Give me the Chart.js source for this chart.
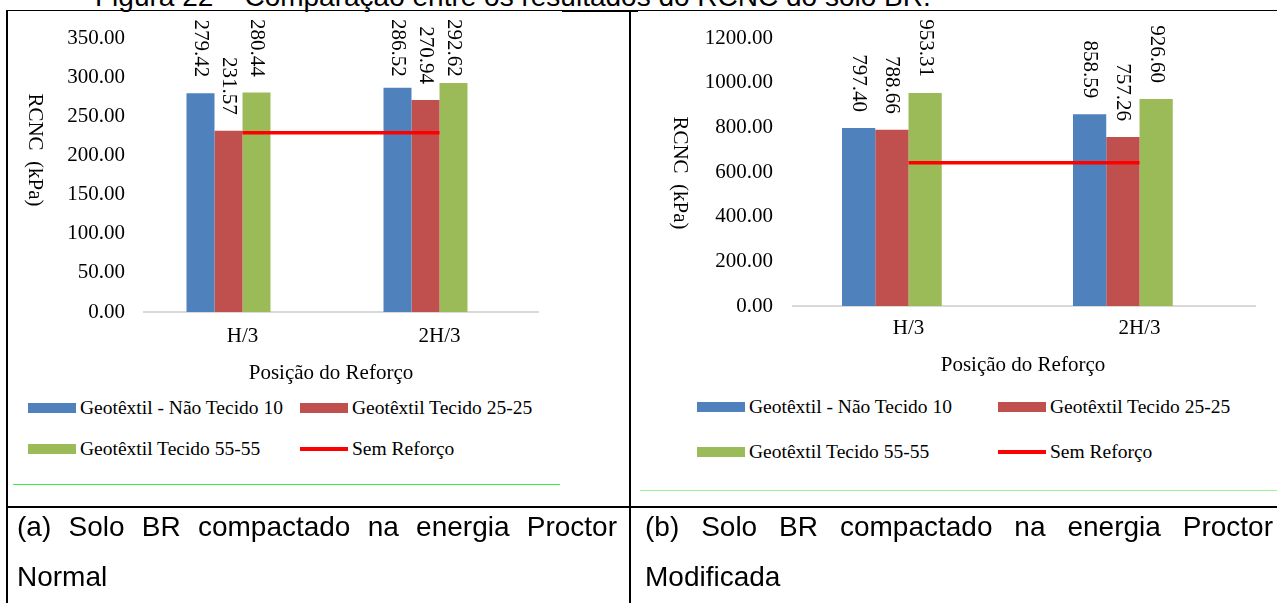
<!DOCTYPE html>
<html lang="pt-BR">
<head>
<meta charset="utf-8">
<title>Figura 22 – RCNC do solo BR</title>
<script src="https://cdn.jsdelivr.net/npm/chart.js@4.4.1/dist/chart.umd.min.js"></script>
<style>
  html, body { margin: 0; padding: 0; background: #fff; }
  body { width: 1277px; height: 603px; position: relative; overflow: hidden; }
  .titulo-fig { position: absolute; left: 95px; top: -17px; font-family: "Liberation Sans", Arial, sans-serif; font-size: 28px; line-height: 28px; white-space: nowrap; }
  .borda { position: absolute; background: #000; }
  .verde { position: absolute; height: 1px; }
  canvas { position: absolute; top: 0; }
  .leg { position: absolute; height: 24px; display: flex; align-items: center; white-space: nowrap;
         font-family: "Liberation Serif", "Times New Roman", serif; font-size: 19.5px; color: #000; }
  .leg i { display: inline-block; width: 48px; margin-right: 4px; }
  .legenda-txt { position: absolute; font-family: "Liberation Sans", Arial, sans-serif; font-size: 28px; line-height: 50px; text-align: justify; }
</style>
</head>
<body>

<div class="titulo-fig">Figura 22 – Comparação entre os resultados do RCNC do solo BR.</div>

<canvas id="grafico-normal" width="622" height="390" style="left:8px"></canvas>
<canvas id="grafico-modificada" width="645" height="390" style="left:632px"></canvas>

<!-- bordas da tabela do documento -->
<div class="borda" style="left:6px;top:10px;width:1271px;height:1px"></div>
<div class="borda" style="left:562px;top:10px;width:76px;height:2px"></div>
<div class="borda" style="left:6px;top:10px;width:2px;height:593px"></div>
<div class="borda" style="left:629px;top:10px;width:2px;height:593px"></div>
<div class="borda" style="left:6px;top:506px;width:1271px;height:2px"></div>
<div class="verde" style="left:13px;top:484px;width:547px;background:#33ee33"></div>
<div class="verde" style="left:640px;top:490px;width:637px;background:#99f599"></div>

<div class="legenda-txt" style="left:17px;top:502px;width:600px">(a) Solo BR compactado na energia Proctor Normal</div>
<div class="legenda-txt" style="left:645px;top:502px;width:628px">(b) Solo BR compactado na energia Proctor Modificada</div>

<script>
// Valores (RCNC em kPa)
const categorias = ['H/3', '2H/3'];
const nomesSeries = ['Geotêxtil - Não Tecido 10', 'Geotêxtil Tecido 25-25', 'Geotêxtil Tecido 55-55'];
const nomeSemReforco = 'Sem Reforço';

const normalNaoTecido10 = [279.42, 286.52];
const normalTecido2525 = [231.57, 270.94];
const normalTecido5555 = [280.44, 292.62];
const normalSemReforco = [229, 229];

const modificadaNaoTecido10 = [797.40, 858.59];
const modificadaTecido2525 = [788.66, 757.26];
const modificadaTecido5555 = [953.31, 926.60];
const modificadaSemReforco = [641, 641];

const ticksNormal = [0, 50, 100, 150, 200, 250, 300, 350];
const ticksModificada = [0, 200, 400, 600, 800, 1000, 1200];

const cores = ['#4F81BD', '#C0504D', '#9BBB59'];
const corSemReforco = '#FF0000';
const fonteSerif = '"Liberation Serif", "Times New Roman", serif';

// Rótulos girados em cima das barras + títulos dos eixos (o Chart.js gira o título do eixo y ao contrário)
const rotulos = {
  id: 'rotulos',
  afterDraw(chart, args, opts) {
    const ctx = chart.ctx;
    ctx.save();
    ctx.font = '21px ' + fonteSerif;
    ctx.fillStyle = '#000';
    ctx.textBaseline = 'middle';
    chart.data.datasets.forEach((ds, i) => {
      if (ds.type !== 'bar' || !ds.label) return;
      chart.getDatasetMeta(i).data.forEach((barra, j) => {
        const v = ds.data[j];
        if (v == null) return;
        const txt = v.toFixed(2);
        const w = ctx.measureText(txt).width;
        const y0 = Math.max(opts.topo, barra.y - opts.folga - w);
        ctx.save();
        ctx.translate(barra.x, y0);
        ctx.rotate(Math.PI / 2);
        ctx.textAlign = 'left';
        ctx.fillText(txt, 0, 0);
        ctx.restore();
      });
    });

    ctx.textAlign = 'center';
    ctx.save();
    ctx.translate(opts.tituloY[0], opts.tituloY[1]);
    ctx.rotate(Math.PI / 2);
    ctx.fillText('RCNC  (kPa)', 0, 0);
    ctx.restore();
    ctx.fillText('Posição do Reforço', opts.tituloX[0], opts.tituloX[1]);
    ctx.restore();
  }
};

function criarGrafico(cfg) {
  const datasets = cfg.barras.map((valores, i) => ({
    type: 'bar',
    label: nomesSeries[i],
    data: valores,
    backgroundColor: cores[i],
    barPercentage: 1,
    categoryPercentage: cfg.catPct,
    order: 1
  }));
  // o Excel reserva o lugar de uma 4ª barra (vazia), por isso o grupo fica deslocado p/ esquerda
  datasets.push({ type: 'bar', label: '', data: categorias.map(() => null),
    barPercentage: 1, categoryPercentage: cfg.catPct, order: 1 });
  datasets.push({
    type: 'line', label: nomeSemReforco, data: cfg.linha,
    borderColor: corSemReforco, backgroundColor: corSemReforco,
    borderWidth: 3.5, pointRadius: 0, fill: false, order: 0
  });

  const ticks = cfg.ticks;
  const chart = new Chart(document.getElementById(cfg.canvas).getContext('2d'), {
    type: 'bar',
    data: { labels: categorias, datasets },
    options: {
      responsive: false,
      animation: false,
      layout: { padding: { top: cfg.topo, right: cfg.direita, left: 0, bottom: 0 } },
      plugins: {
        legend: { display: false },
        tooltip: { enabled: false },
        rotulos: { topo: cfg.topoRotulo, folga: 16, tituloY: cfg.tituloY, tituloX: cfg.tituloX }
      },
      scales: {
        x: {
          grid: { display: false, drawTicks: false },
          border: { color: '#D9D9D9', width: 2 },
          ticks: { color: '#000', font: { family: fonteSerif, size: 21 }, padding: cfg.padX },
          afterFit: s => { s.height = cfg.alturaX; }
        },
        y: {
          min: ticks[0],
          max: ticks[ticks.length - 1],
          grid: { display: false, drawTicks: false },
          border: { display: false },
          ticks: {
            stepSize: ticks[1] - ticks[0],
            color: '#000',
            font: { family: fonteSerif, size: 21 },
            padding: cfg.padY,
            callback: v => Number(v).toFixed(2)
          },
          afterFit: s => { s.width = cfg.larguraY; }
        }
      }
    },
    plugins: [rotulos]
  });

  montarLegenda(chart, cfg.legenda);
  return chart;
}

function montarLegenda(chart, posicoes) {
  const itens = chart.data.datasets.filter(d => d.label);
  itens.forEach((d, i) => {
    const div = document.createElement('div');
    div.className = 'leg';
    div.style.left = posicoes[i][0] + 'px';
    div.style.top = (posicoes[i][1] - 12) + 'px';
    const alt = d.type === 'line' ? 4 : 10;
    const cor = d.type === 'line' ? d.borderColor : d.backgroundColor;
    div.innerHTML = `<i style="height:${alt}px;background:${cor}"></i><span>${d.label}</span>`;
    document.body.appendChild(div);
  });
}

criarGrafico({
  canvas: 'grafico-normal',
  barras: [normalNaoTecido10, normalTecido2525, normalTecido5555],
  linha: normalSemReforco,
  ticks: ticksNormal,
  catPct: 0.5685,
  topo: 38, direita: 92, alturaX: 78, larguraY: 136,
  padX: 12, padY: 19, topoRotulo: 19,
  tituloY: [27, 150], tituloX: [323, 373],
  legenda: [[28, 408], [300, 408], [28, 449], [300, 449]]
});

criarGrafico({
  canvas: 'grafico-modificada',
  barras: [modificadaNaoTecido10, modificadaTecido2525, modificadaTecido5555],
  linha: modificadaSemReforco,
  ticks: ticksModificada,
  catPct: 0.5758,
  topo: 38, direita: 22, alturaX: 84, larguraY: 161,
  padX: 10, padY: 20, topoRotulo: 18,
  tituloY: [48, 173], tituloX: [391, 365],
  legenda: [[697, 407], [998, 407], [697, 452], [998, 452]]
});
</script>
</body>
</html>
